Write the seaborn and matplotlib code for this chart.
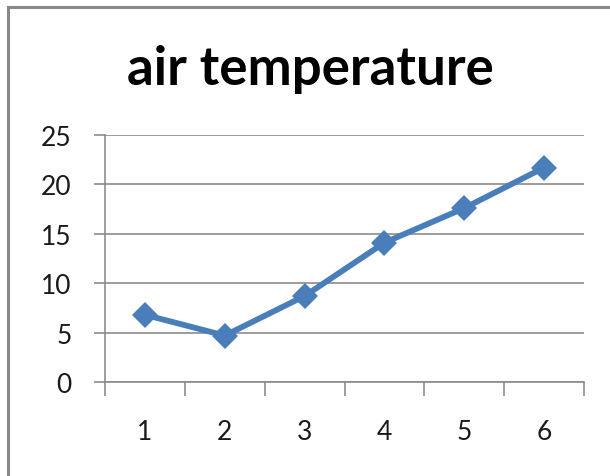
import matplotlib
matplotlib.use("Agg")
import matplotlib.pyplot as plt
import matplotlib.patches as mpatches
import seaborn as sns
import pandas as pd

# Monthly readings
periods = ["1", "2", "3", "4", "5", "6"]
temperature = [6.8, 4.7, 8.7, 14.1, 17.6, 21.7]
y_ticks = [0, 5, 10, 15, 20, 25]

sns.set_theme(style="white")
plt.rcParams["font.family"] = ["Lato", "DejaVu Sans"]

W, H = 610, 477
fig = plt.figure(figsize=(W / 100, H / 100), dpi=100)
ax = fig.add_axes([105 / W, 1 - 383 / H, (584 - 105) / W, (383 - 136) / H])

df = pd.DataFrame({"pos": range(len(periods)), "temp": temperature})
line_color = "#4A7EBB"
sns.lineplot(data=df, x="pos", y="temp", ax=ax, color=line_color, lw=4.2,
             marker="D", markersize=13.5, markeredgewidth=0, zorder=3)

grid_c = "#8c8c8c"
ax.set_xlim(-0.5, len(periods) - 0.5)
ax.set_ylim(0, 25)
ax.set_yticks(y_ticks)
ax.set_yticklabels([str(v) for v in y_ticks])
ax.yaxis.grid(True, color=grid_c, lw=1.2)
ax.set_axisbelow(True)

# category boundaries get the tick marks, labels sit in between
ax.set_xticks([i - 0.5 for i in range(len(periods) + 1)])
ax.set_xticklabels([])
ax.set_xticks(range(len(periods)), minor=True)
ax.set_xticklabels(periods, minor=True)
ax.tick_params(axis="x", which="major", length=10, width=1.2, color=grid_c, direction="out", bottom=True)
ax.tick_params(axis="x", which="minor", length=0, pad=27, labelsize=19, labelcolor="#1a1a1a")
ax.tick_params(axis="y", length=8, width=1.2, color=grid_c, direction="out", left=True, pad=16,
               labelsize=19, labelcolor="#1a1a1a")
ax.set_xlabel("")
ax.set_ylabel("")

for s in ["top", "right"]:
    ax.spines[s].set_visible(False)
for s in ["left", "bottom"]:
    ax.spines[s].set_color(grid_c)
    ax.spines[s].set_linewidth(1.2)

# chart frame
frame = mpatches.Rectangle((7.5 / W, -0.1), 1.2, 1 - 8 / H + 0.1, transform=fig.transFigure,
                           fill=False, edgecolor="#8a8a8a", lw=2.2)
fig.patches.append(frame)

fig.text(310 / W, 1 - 70 / H, "air temperature", ha="center", va="center",
         fontsize=38, fontweight="bold", color="black")

fig.savefig("out.png", dpi=100)
